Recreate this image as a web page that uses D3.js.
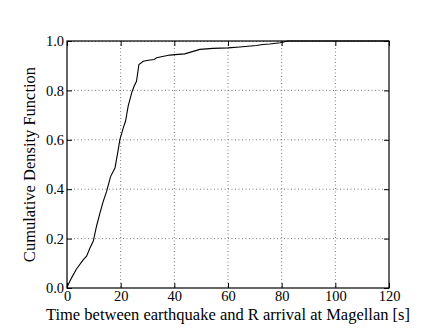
<!DOCTYPE html>
<html>
<head>
<meta charset="utf-8">
<script src="https://cdn.jsdelivr.net/npm/d3@7"></script>
<style>
  body { margin: 0; background: #fff; }
</style>
</head>
<body>
<figure style="margin:0"></figure>
<script>
// CDF of time between earthquake and R arrival
const times = [0, 0.3, 1.7, 3.6, 6.1, 7.3, 8.6, 9.8, 11, 12.3, 13.5, 14.8, 16.2, 17.9, 19.1, 19.7, 21, 21.8, 22.8, 24.1, 25, 25.9, 26.8, 28.4, 30.3, 32.5, 33.4, 38.3, 40.2, 43.9, 46.4, 49.5, 54.4, 60, 64.4, 70.6, 73, 75.5, 79.5, 82.3, 120]
const cdf = [0, 0.01, 0.041, 0.078, 0.115, 0.129, 0.163, 0.19, 0.25, 0.304, 0.351, 0.392, 0.45, 0.487, 0.56, 0.601, 0.649, 0.675, 0.736, 0.79, 0.817, 0.837, 0.905, 0.918, 0.922, 0.925, 0.932, 0.943, 0.945, 0.948, 0.956, 0.966, 0.97, 0.972, 0.976, 0.982, 0.986, 0.988, 0.993, 1.0, 1.0]
const xTicks = [0, 20, 40, 60, 80, 100, 120]
const yTicks = [0, 0.2, 0.4, 0.6, 0.8, 1.0]

const font = '"Liberation Serif", "DejaVu Serif", serif'
const width = 443
const height = 332
const margin = { top: 41, right: 54, bottom: 44, left: 67 }
const w = width - margin.left - margin.right
const h = height - margin.top - margin.bottom

const svg = d3.select('figure').append('svg')
  .attr('width', width)
  .attr('height', height)

const g = svg.append('g')
  .attr('transform', `translate(${margin.left},${margin.top})`)

const x = d3.scaleLinear().domain([0, 120]).range([0, w])
const y = d3.scaleLinear().domain([0, 1]).range([h, 0])

// grid
g.selectAll('.gx').data(xTicks.slice(1, -1)).join('line')
  .attr('x1', d => x(d)).attr('x2', d => x(d))
  .attr('y1', 0).attr('y2', h)
  .attr('stroke', '#555').attr('stroke-width', 0.8)
  .attr('stroke-dasharray', '1,2.5')
g.selectAll('.gy').data(yTicks.slice(1, -1)).join('line')
  .attr('y1', d => y(d)).attr('y2', d => y(d))
  .attr('x1', 0).attr('x2', w)
  .attr('stroke', '#555').attr('stroke-width', 0.8)
  .attr('stroke-dasharray', '1,2.5')
// top gridline at 1.0
g.append('line')
  .attr('x1', 0).attr('x2', w)
  .attr('y1', y(1) + 0.5).attr('y2', y(1) + 0.5)
  .attr('stroke', '#555').attr('stroke-width', 0.8)
  .attr('stroke-dasharray', '1,2.5')

// axes with inward ticks
const fmt = d3.format('.1f')
g.append('g')
  .attr('transform', `translate(0,${h})`)
  .call(d3.axisBottom(x).tickValues(xTicks).tickSize(-5).tickPadding(3).tickFormat(d3.format('d')))
  .call(a => a.select('.domain').remove())
  .call(a => a.selectAll('text').style('font-family', font).style('font-size', '14.5px'))
g.append('g')
  .call(d3.axisTop(x).tickValues(xTicks).tickSize(-5).tickFormat(''))
  .call(a => a.select('.domain').remove())
g.append('g')
  .call(d3.axisLeft(y).tickValues(yTicks).tickSize(-5).tickPadding(3).tickFormat(fmt))
  .call(a => a.select('.domain').remove())
  .call(a => a.selectAll('text').style('font-family', font).style('font-size', '14.5px'))
g.append('g')
  .attr('transform', `translate(${w},0)`)
  .call(d3.axisRight(y).tickValues(yTicks).tickSize(-5).tickFormat(''))
  .call(a => a.select('.domain').remove())

// the curve
const line = d3.line()
  .x((d, i) => x(times[i]))
  .y(d => y(d))
g.append('path')
  .attr('d', line(cdf))
  .attr('fill', 'none')
  .attr('stroke', '#000')
  .attr('stroke-width', 1.1)

// frame
g.append('rect')
  .attr('width', w).attr('height', h)
  .attr('fill', 'none')
  .attr('stroke', '#000')
  .attr('stroke-width', 1.2)

// labels
svg.append('text')
  .attr('x', margin.left + w / 2)
  .attr('y', height - 12)
  .attr('text-anchor', 'middle')
  .style('font-family', font)
  .style('font-size', '16.5px')
  .text('Time between earthquake and R arrival at Magellan [s]')
svg.append('text')
  .attr('transform', `translate(${35},${margin.top + h / 2}) rotate(-90)`)
  .attr('text-anchor', 'middle')
  .style('font-family', font)
  .style('font-size', '16.5px')
  .text('Cumulative Density Function')
</script>
</body>
</html>
